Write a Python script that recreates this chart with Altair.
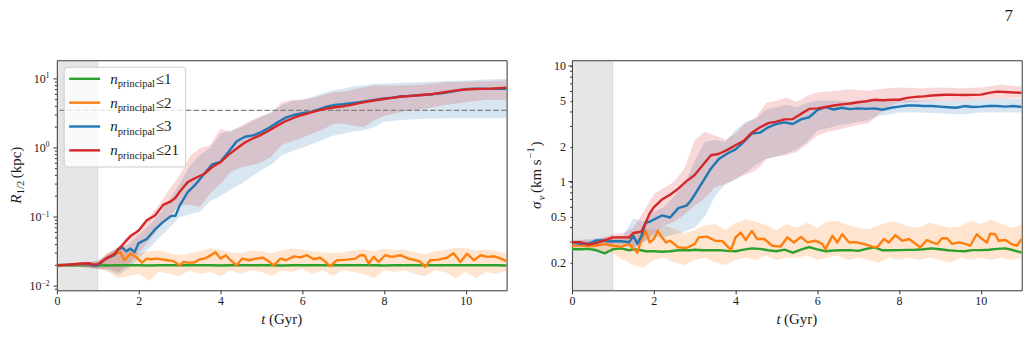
import altair as alt
import pandas as pd

# ---------------------------------------------------------------------------
# Time grids (Gyr)
# ---------------------------------------------------------------------------
T_MAIN = [0.0, 0.2, 0.4, 0.6, 0.8, 0.9, 1.0, 1.2, 1.4, 1.5, 1.6, 1.7, 1.8, 1.9,
          2.0, 2.2, 2.4, 2.6, 2.8, 2.9, 3.0, 3.2, 3.4, 3.6, 3.8, 4.0, 4.2, 4.4,
          4.6, 4.8, 5.0, 5.2, 5.4, 5.6, 5.8, 6.0, 6.2, 6.4, 6.6, 6.8, 7.0, 7.2,
          7.4, 7.6, 7.8, 8.0, 8.2, 8.4, 8.6, 8.8, 9.0, 9.2, 9.4, 9.6, 9.8, 10.0,
          10.2, 10.4, 10.6, 10.8, 11.0]

T_BAND = [0.0, 0.5, 1.0, 1.25, 1.5, 1.75, 2.0, 2.25, 2.5, 2.75, 3.0, 3.25, 3.5,
          3.75, 4.0, 4.25, 4.5, 4.75, 5.0, 5.25, 5.5, 5.75, 6.0, 6.25, 6.5, 6.75,
          7.0, 7.25, 7.5, 7.75, 8.0, 8.5, 9.0, 9.5, 10.0, 10.5, 11.0]

T_QUARTER = [0.0, 0.25, 0.5, 0.75, 1.0, 1.25, 1.5, 1.75, 2.0, 2.25, 2.5, 2.75,
             3.0, 3.25, 3.5, 3.75, 4.0, 4.25, 4.5, 4.75, 5.0, 5.25, 5.5, 5.75,
             6.0, 6.25, 6.5, 6.75, 7.0, 7.25, 7.5, 7.75, 8.0, 8.25, 8.5, 8.75,
             9.0, 9.25, 9.5, 9.75, 10.0, 10.25, 10.5, 10.75, 11.0]

# ---------------------------------------------------------------------------
# Half-light radius R_1/2 (kpc)
# ---------------------------------------------------------------------------
R_N21 = [0.0200, 0.0203, 0.0207, 0.0212, 0.0214, 0.0205, 0.0208, 0.0250, 0.0290,
         0.0340, 0.0390, 0.0460, 0.0530, 0.0580, 0.0640, 0.0900, 0.1050, 0.1500,
         0.1700, 0.1900, 0.2300, 0.3200, 0.3700, 0.4200, 0.5300, 0.6200, 0.8000,
         0.9800, 1.20, 1.38, 1.55, 1.80, 2.12, 2.45, 2.75, 3.00, 3.25, 3.50, 3.72,
         3.88, 4.02, 4.20, 4.45, 4.70, 4.90, 5.10, 5.30, 5.50, 5.62, 5.75, 5.90,
         6.05, 6.30, 6.60, 6.85, 7.00, 7.10, 7.15, 7.20, 7.35, 7.45]

R_N3 = [0.0200, 0.0203, 0.0205, 0.0209, 0.0206, 0.0196, 0.0200, 0.0250, 0.0280,
        0.0340, 0.0360, 0.0320, 0.0350, 0.0310, 0.0420, 0.0480, 0.0660, 0.0850,
        0.1040, 0.1040, 0.1450, 0.2300, 0.3000, 0.4200, 0.5800, 0.6300, 0.8800,
        1.25, 1.45, 1.52, 1.70, 1.98, 2.35, 2.75, 3.00, 3.20, 3.30, 3.60, 3.95,
        4.20, 4.30, 4.45, 4.60, 4.80, 5.00, 5.20, 5.35, 5.55, 5.65, 5.80, 5.90,
        6.00, 6.20, 6.45, 6.75, 7.10, 7.20, 7.20, 7.15, 7.20, 7.20]

R_N1 = [0.0200, 0.0200, 0.0200, 0.0201, 0.0200, 0.0199, 0.0200, 0.0200, 0.0200,
        0.0199, 0.0200, 0.0200, 0.0200, 0.0201, 0.0200, 0.0200, 0.0199, 0.0200,
        0.0200, 0.0200, 0.0200, 0.0200, 0.0199, 0.0200, 0.0200, 0.0200, 0.0200,
        0.0201, 0.0200, 0.0200, 0.0200, 0.0200, 0.0199, 0.0200, 0.0200, 0.0200,
        0.0200, 0.0200, 0.0200, 0.0200, 0.0201, 0.0200, 0.0200, 0.0200, 0.0199]

T_N2_R = [0.0, 0.5, 0.9, 1.0, 1.1, 1.2, 1.3, 1.4, 1.55, 1.65, 1.8, 1.93, 2.08, 2.2,
          2.3, 2.45, 2.6, 2.7, 2.85, 3.0, 3.1, 3.2, 3.35, 3.5, 3.6, 3.7, 3.88, 4.0,
          4.13, 4.25, 4.4, 4.53, 4.7, 4.86, 5.05, 5.2, 5.3, 5.47, 5.6, 5.8, 5.96,
          6.12, 6.28, 6.44, 6.57, 6.68, 6.85, 7.0, 7.1, 7.3, 7.42, 7.52, 7.63, 7.75,
          7.87, 8.03, 8.2, 8.4, 8.6, 8.77, 8.89, 9.01, 9.13, 9.33, 9.54, 9.7, 9.87,
          10.03, 10.2, 10.37, 10.53, 10.7, 10.86, 11.0]
R_N2 = [0.0200, 0.0205, 0.0198, 0.0200, 0.0220, 0.0250, 0.0265, 0.0285, 0.0310,
        0.0237, 0.0295, 0.0265, 0.0219, 0.0250, 0.0245, 0.0250, 0.0242, 0.0237,
        0.0230, 0.0200, 0.0224, 0.0220, 0.0219, 0.0245, 0.0250, 0.0265, 0.0310,
        0.0250, 0.0280, 0.0237, 0.0200, 0.0250, 0.0237, 0.0250, 0.0257, 0.0224,
        0.0200, 0.0250, 0.0237, 0.0270, 0.0260, 0.0280, 0.0245, 0.0257, 0.0224,
        0.0195, 0.0237, 0.0240, 0.0242, 0.0250, 0.0280, 0.0280, 0.0212, 0.0265,
        0.0224, 0.0280, 0.0265, 0.0280, 0.0250, 0.0237, 0.0224, 0.0190, 0.0237,
        0.0242, 0.0257, 0.0300, 0.0224, 0.0295, 0.0237, 0.0280, 0.0265, 0.0270,
        0.0250, 0.0230]

R_N21_LO = [0.0195, 0.0190, 0.0175, 0.0180, 0.0160, 0.0200, 0.0300, 0.0450, 0.0700,
            0.1000, 0.1500, 0.1500, 0.1400, 0.2200, 0.3000, 0.4500, 0.5200, 0.5600,
            0.6200, 0.7500, 1.10, 1.25, 1.40, 1.60, 1.85, 2.20, 2.25, 2.10, 2.00,
            2.50, 2.90, 3.40, 3.70, 4.20, 4.60, 5.00, 5.00]
R_N21_HI = [0.0205, 0.0215, 0.0230, 0.0300, 0.0370, 0.0500, 0.0680, 0.1000, 0.1500,
            0.2500, 0.4000, 0.7500, 1.00, 1.10, 1.90, 1.70, 2.10, 2.50, 2.90, 3.20,
            4.60, 5.00, 5.00, 5.30, 5.80, 6.40, 6.50, 7.00, 7.50, 8.00, 8.00, 8.00,
            8.30, 8.90, 9.10, 9.20, 9.50]
R_N3_LO = [0.0195, 0.0190, 0.0180, 0.0170, 0.0145, 0.0180, 0.0250, 0.0350, 0.0500,
           0.0700, 0.1000, 0.1100, 0.1200, 0.1700, 0.2000, 0.2500, 0.3000, 0.3800,
           0.4800, 0.5800, 0.7800, 0.9000, 1.00, 1.15, 1.30, 1.50, 1.60, 1.75, 1.80,
           2.00, 2.40, 2.55, 2.65, 2.70, 2.70, 2.70, 2.70]
R_N3_HI = [0.0205, 0.0215, 0.0230, 0.0300, 0.0360, 0.0400, 0.0550, 0.0750, 0.1100,
           0.1800, 0.3000, 0.5500, 0.8000, 1.00, 1.60, 1.80, 2.00, 2.40, 2.80, 3.30,
           4.20, 4.80, 5.00, 5.50, 6.20, 6.80, 7.20, 7.80, 8.10, 8.40, 8.50, 8.80,
           9.00, 9.30, 9.50, 9.80, 10.0]
R_N2_LO = [0.019, 0.019, 0.019, 0.019, 0.018, 0.016, 0.013, 0.014, 0.015, 0.012,
           0.016, 0.015, 0.014, 0.017, 0.015, 0.016, 0.014, 0.017, 0.015, 0.017,
           0.016, 0.014, 0.017, 0.016, 0.018, 0.015, 0.017, 0.014, 0.017, 0.016,
           0.015, 0.013, 0.017, 0.016, 0.017, 0.015, 0.014, 0.017, 0.016, 0.013,
           0.016, 0.013, 0.016, 0.015, 0.017]
R_N2_HI = [0.021, 0.021, 0.0215, 0.0215, 0.022, 0.030, 0.034, 0.033, 0.030, 0.032,
           0.033, 0.030, 0.028, 0.030, 0.032, 0.035, 0.034, 0.031, 0.030, 0.033,
           0.032, 0.030, 0.033, 0.035, 0.034, 0.032, 0.031, 0.030, 0.031, 0.033,
           0.034, 0.032, 0.035, 0.033, 0.034, 0.031, 0.029, 0.032, 0.033, 0.036,
           0.035, 0.033, 0.034, 0.032, 0.030]

R_HALF_REF = 3.5  # dashed reference radius (kpc)

# ---------------------------------------------------------------------------
# Velocity dispersion sigma_v (km/s)
# ---------------------------------------------------------------------------
S_N21 = [0.300, 0.300, 0.285, 0.295, 0.310, 0.320, 0.330, 0.330, 0.330, 0.360,
         0.365, 0.370, 0.440, 0.530, 0.600, 0.700, 0.770, 0.870, 1.01, 1.07,
         1.14, 1.39, 1.69, 1.74, 1.88, 2.06, 2.25, 2.65, 2.95, 3.20, 3.30, 3.45,
         3.47, 3.85, 4.25, 4.30, 4.42, 4.55, 4.65, 4.73, 4.85, 4.95, 5.10, 5.05,
         5.10, 5.10, 5.30, 5.40, 5.45, 5.55, 5.60, 5.65, 5.62, 5.60, 5.62, 5.65,
         5.85, 6.00, 5.95, 5.90, 5.85]
S_N3 = [0.300, 0.290, 0.290, 0.310, 0.310, 0.305, 0.305, 0.305, 0.300, 0.340,
        0.290, 0.340, 0.440, 0.450, 0.470, 0.510, 0.490, 0.590, 0.620, 0.680,
        0.77, 1.00, 1.30, 1.58, 1.75, 1.90, 2.20, 2.60, 2.65, 2.95, 3.15, 3.25,
        3.15, 3.45, 3.60, 4.15, 4.40, 4.20, 4.35, 4.23, 4.30, 4.25, 4.30, 4.18,
        4.35, 4.45, 4.55, 4.55, 4.50, 4.50, 4.45, 4.40, 4.35, 4.50, 4.42, 4.45,
        4.50, 4.50, 4.45, 4.50, 4.42]
S_N1 = [0.260, 0.260, 0.262, 0.255, 0.240, 0.250, 0.260, 0.265, 0.255, 0.260,
        0.258, 0.255, 0.250, 0.250, 0.250, 0.248, 0.250, 0.255, 0.255, 0.255,
        0.258, 0.255, 0.255, 0.256, 0.252, 0.250, 0.258, 0.265, 0.262, 0.255,
        0.250, 0.258, 0.243, 0.258, 0.272, 0.260, 0.250, 0.254, 0.255, 0.256,
        0.252, 0.262, 0.270, 0.255, 0.255, 0.256, 0.257, 0.258, 0.260, 0.265,
        0.260, 0.255, 0.252, 0.250, 0.256, 0.256, 0.258, 0.262, 0.265, 0.255,
        0.243]

T_N2_S = [0.0, 0.2, 0.4, 0.6, 0.8, 1.0, 1.2, 1.4, 1.6, 1.7, 1.8, 1.9, 2.0, 2.1,
          2.2, 2.3, 2.4, 2.6, 2.8, 3.0, 3.1, 3.3, 3.5, 3.68, 3.89, 4.0, 4.13, 4.25,
          4.4, 4.53, 4.7, 4.9, 5.1, 5.27, 5.43, 5.6, 5.76, 5.96, 6.12, 6.2, 6.37,
          6.49, 6.61, 6.78, 6.94, 7.15, 7.35, 7.46, 7.63, 7.75, 7.91, 8.08, 8.24,
          8.36, 8.52, 8.68, 8.81, 8.93, 9.05, 9.17, 9.3, 9.46, 9.62, 9.74, 9.9,
          10.03, 10.15, 10.23, 10.35, 10.44, 10.6, 10.76, 10.88, 11.0]
S_N2 = [0.280, 0.280, 0.277, 0.280, 0.288, 0.279, 0.274, 0.288, 0.243, 0.319,
        0.375, 0.298, 0.319, 0.375, 0.330, 0.298, 0.308, 0.270, 0.267, 0.288,
        0.330, 0.335, 0.308, 0.306, 0.256, 0.330, 0.363, 0.313, 0.375, 0.319,
        0.319, 0.279, 0.274, 0.330, 0.298, 0.333, 0.298, 0.308, 0.290, 0.261,
        0.340, 0.298, 0.351, 0.298, 0.300, 0.288, 0.274, 0.270, 0.319, 0.298,
        0.345, 0.308, 0.319, 0.298, 0.270, 0.313, 0.298, 0.288, 0.324, 0.324,
        0.290, 0.298, 0.290, 0.279, 0.351, 0.319, 0.298, 0.355, 0.351, 0.308,
        0.313, 0.288, 0.279, 0.319]

S_N21_LO = [0.280, 0.270, 0.290, 0.290, 0.270, 0.300, 0.360, 0.420, 0.450, 0.520,
            0.620, 0.720, 0.900, 0.950, 1.05, 1.15, 1.25, 1.55, 1.65, 1.70, 1.80,
            2.10, 2.50, 2.70, 2.80, 2.95, 3.10, 3.20, 3.80, 4.50, 4.80, 4.90, 5.00,
            5.00, 5.10, 5.20, 5.30]
S_N21_HI = [0.310, 0.310, 0.350, 0.360, 0.400, 0.550, 0.780, 0.880, 1.00, 1.30,
            2.30, 2.70, 2.50, 2.30, 2.60, 3.20, 3.60, 4.80, 5.00, 5.30, 4.90, 5.50,
            5.90, 6.00, 6.10, 6.30, 6.20, 6.10, 6.30, 6.40, 6.50, 6.40, 6.50, 6.40,
            6.50, 6.90, 6.60]
S_N3_LO = [0.280, 0.280, 0.280, 0.280, 0.260, 0.300, 0.330, 0.330, 0.350, 0.370,
           0.400, 0.500, 0.750, 0.950, 1.05, 1.20, 1.40, 1.58, 1.65, 1.75, 1.90,
           2.20, 2.75, 2.90, 3.05, 3.15, 3.30, 3.40, 3.70, 3.80, 3.95, 3.95, 3.90,
           3.80, 3.95, 3.95, 3.95]
S_N3_HI = [0.310, 0.320, 0.330, 0.340, 0.480, 0.450, 0.550, 0.600, 0.750, 0.950,
           1.50, 2.20, 2.30, 2.20, 2.80, 3.30, 3.50, 4.20, 4.40, 4.60, 4.40, 4.80,
           5.00, 5.00, 5.00, 4.90, 5.00, 5.10, 5.10, 5.00, 5.10, 5.00, 5.00, 5.00,
           5.10, 5.20, 5.20]
S_N2_LO = [0.26, 0.26, 0.26, 0.25, 0.24, 0.21, 0.19, 0.18, 0.21, 0.22, 0.20, 0.19,
           0.21, 0.22, 0.20, 0.19, 0.21, 0.22, 0.21, 0.23, 0.21, 0.22, 0.22, 0.23,
           0.21, 0.22, 0.23, 0.21, 0.22, 0.21, 0.20, 0.22, 0.21, 0.22, 0.21, 0.22,
           0.21, 0.20, 0.22, 0.21, 0.22, 0.21, 0.22, 0.21, 0.22]
S_N2_HI = [0.30, 0.30, 0.30, 0.31, 0.32, 0.33, 0.35, 0.40, 0.38, 0.42, 0.39, 0.36,
           0.38, 0.42, 0.43, 0.38, 0.44, 0.47, 0.45, 0.42, 0.38, 0.43, 0.40, 0.44,
           0.40, 0.45, 0.46, 0.42, 0.40, 0.39, 0.42, 0.45, 0.44, 0.41, 0.40, 0.44,
           0.42, 0.40, 0.41, 0.46, 0.43, 0.47, 0.43, 0.40, 0.42]

# Axis ticks and labels
X_TICKS = [0, 2, 4, 6, 8, 10]
R_MAJOR = [0.01, 0.1, 1.0, 10.0]
R_MINOR = [0.009] + [k * 0.01 for k in range(2, 10)] + [k * 0.1 for k in range(2, 10)] \
    + [float(k) for k in range(2, 10)]
R_LABEL_EXPONENTS = ["\u22122", "\u22121", "0", "1"]
S_MAJOR = [1.0, 10.0]
S_MINOR = [0.3, 0.4, 0.6, 0.7, 0.8, 0.9, 3.0, 4.0, 6.0, 7.0, 8.0, 9.0]
S_LABEL_VALUES = [0.2, 0.5, 1.0, 2.0, 5.0, 10.0]
S_LABEL_TEXTS = ["0.2", "0.5", "1", "2", "5", "10"]

LEGEND_N = ["1", "2", "3", "21"]
C_N1, C_N2, C_N3, C_N21 = "#2ca02c", "#ff7f0e", "#1f77b4", "#d62728"
LEGEND_COLORS = [C_N1, C_N2, C_N3, C_N21]

# ---------------------------------------------------------------------------
# Styling / layout
# ---------------------------------------------------------------------------
W, H = 450.6, 230.5
SERIF = "Liberation Serif"
INK = "#1a1a1a"
ONE = pd.DataFrame({"k": [0]})
X_SCALE = alt.Scale(domain=[0, 11], nice=False, zero=False)
R_SCALE = alt.Scale(type="log", domain=[0.0087, 18.6], nice=False)
S_SCALE = alt.Scale(type="log", domain=[0.115, 11.2], nice=False)
BAND_N2, BAND_N3, BAND_N21 = 0.2, 0.18, 0.18

X_AXIS = alt.Axis(values=X_TICKS, title=None, grid=False, domain=False, format="d",
                  tickSize=3.5, tickWidth=0.9, tickColor=INK,
                  labelFont=SERIF, labelFontSize=12, labelColor=INK,
                  labelPadding=2, labelFlush=False, labelOverlap=False)
s_expr = " : ".join(f"abs(datum.value - {v}) < 1e-6 ? '{s}'"
                    for v, s in zip(S_LABEL_VALUES, S_LABEL_TEXTS)) + " : ''"
S_AXIS = alt.Axis(values=S_LABEL_VALUES, title=None, grid=False, domain=False,
                  tickSize=2, tickWidth=0.9, tickColor=INK,
                  labelExpr=s_expr, labelFont=SERIF, labelFontSize=12,
                  labelColor=INK, labelPadding=4.5, labelFlush=False,
                  labelOverlap=False)
# the R_1/2 panel draws its own log-axis labels, so its y axis is switched off
R_AXIS = None


def xy(yfield, yscale, yaxis):
    return dict(x=alt.X("t:Q", scale=X_SCALE, axis=X_AXIS),
                y=alt.Y(yfield, scale=yscale, axis=yaxis))


def band(t, lo, hi, color, opacity, yscale, yaxis):
    df = pd.DataFrame({"t": t, "lo": lo, "hi": hi})
    return alt.Chart(df).mark_area(color=color, opacity=opacity, clip=True).encode(
        y2="hi:Q", **xy("lo:Q", yscale, yaxis))


def curve(t, v, color, yscale, yaxis):
    df = pd.DataFrame({"t": t, "v": v})
    return alt.Chart(df).mark_line(color=color, strokeWidth=2.4, clip=True,
                                   strokeJoin="round").encode(**xy("v:Q", yscale, yaxis))


def y_ticks(values, yscale, yaxis, length):
    # outward tick marks on the left edge of a log axis
    return alt.Chart(pd.DataFrame({"v": values})).mark_rule(
        color=INK, strokeWidth=0.9).encode(
        y=alt.Y("v:Q", scale=yscale, axis=yaxis),
        x=alt.value(0), x2=alt.value(-length))


def span():
    df = pd.DataFrame({"t": [0.0], "t1": [1.0]})
    return alt.Chart(df).mark_rect(fill="#808080", fillOpacity=0.2, stroke="#808080",
                                   strokeOpacity=0.2, strokeWidth=1).encode(
        x=alt.X("t:Q", scale=X_SCALE, axis=X_AXIS),
        x2="t1:Q",
        y=alt.value(0),
        y2=alt.value(H),
    )


def text(s, x, y, size, italic=False, angle=0, align="left", baseline="alphabetic"):
    return alt.Chart(ONE).mark_text(
        text=s, font=SERIF, fontSize=size, color=INK, angle=angle, align=align,
        baseline=baseline, fontStyle="italic" if italic else "normal",
    ).encode(x=alt.value(x), y=alt.value(y))


def x_title():
    cx, by = W / 2, 264
    return [text("t", cx - 20.5, by, 15, italic=True),
            text("(Gyr)", cx + 20.5, by, 15, align="right")]


# ---------------------------------------------------------------------------
# Left panel: R_1/2
# ---------------------------------------------------------------------------
# invisible page-sized rectangle that fixes the overall canvas extent
page = alt.Chart(ONE).mark_rect(opacity=0).encode(
    x=alt.value(-56), x2=alt.value(974), y=alt.value(-59.5), y2=alt.value(304.5))

exp_w = {"\u22122": 8.0, "\u22121": 8.0, "0": 3.8, "1": 3.8}
r_lab = pd.DataFrame({"v": R_MAJOR, "e": R_LABEL_EXPONENTS})
r_lab["xb"] = [-7.5 - exp_w[e] for e in R_LABEL_EXPONENTS]
r_base = alt.Chart(r_lab).mark_text(align="right", baseline="middle", font=SERIF,
                                    fontSize=12, color=INK).encode(
    x=alt.X("xb:Q", scale=None), y=alt.Y("v:Q", scale=R_SCALE, axis=R_AXIS),
    text=alt.value("10"))
r_exp = alt.Chart(r_lab).mark_text(align="right", baseline="alphabetic", dy=-0.5,
                                   font=SERIF, fontSize=7.5, color=INK).encode(
    x=alt.value(-7.5), y=alt.Y("v:Q", scale=R_SCALE, axis=R_AXIS), text="e:N")

ref_line = alt.Chart(pd.DataFrame({"v": [R_HALF_REF]})).mark_rule(
    color="#808080", strokeDash=[5.5, 2.4], strokeWidth=1.3).encode(
    y=alt.Y("v:Q", scale=R_SCALE, axis=R_AXIS))

leg = pd.DataFrame({"n": LEGEND_N, "col": LEGEND_COLORS})
leg["ry"] = [18.6 + 23.9 * i for i in range(len(LEGEND_N))]
leg["le"] = ["\u2264" + n for n in LEGEND_N]
leg_box = alt.Chart(ONE).mark_rect(fill="white", fillOpacity=0.8, stroke="#cccccc",
                                   strokeWidth=1, cornerRadius=3).encode(
    x=alt.value(7.3), x2=alt.value(129), y=alt.value(7), y2=alt.value(107))
leg_lines = alt.Chart(leg).mark_rule(strokeWidth=2.4).encode(
    x=alt.value(12.3), x2=alt.value(43.3), y=alt.Y("ry:Q", scale=None),
    color=alt.Color("col:N", scale=None, legend=None))
leg_n = alt.Chart(leg).mark_text(text="n", font=SERIF, fontSize=15, fontStyle="italic",
                                 align="left", baseline="alphabetic", dy=5,
                                 color=INK).encode(
    x=alt.value(53.5), y=alt.Y("ry:Q", scale=None))
leg_sub = alt.Chart(leg).mark_text(text="principal", font=SERIF, fontSize=10.5,
                                   align="left", baseline="alphabetic", dy=8.5,
                                   color=INK).encode(
    x=alt.value(61), y=alt.Y("ry:Q", scale=None))
leg_le = alt.Chart(leg).mark_text(font=SERIF, fontSize=15, align="left",
                                  baseline="alphabetic", dy=5, color=INK).encode(
    x=alt.value(99), y=alt.Y("ry:Q", scale=None), text="le:N")

r_title = [
    text("R", -36, 143.9, 15, italic=True, angle=270),
    text("1/2", -32.5, 134.2, 10.5, angle=270),
    text("(kpc)", -36, 118.3, 15, angle=270),
]

left = alt.layer(
    page,
    span(),
    band(T_QUARTER, R_N2_LO, R_N2_HI, C_N2, BAND_N2, R_SCALE, R_AXIS),
    band(T_BAND, R_N3_LO, R_N3_HI, C_N3, BAND_N3, R_SCALE, R_AXIS),
    band(T_BAND, R_N21_LO, R_N21_HI, C_N21, BAND_N21, R_SCALE, R_AXIS),
    ref_line,
    curve(T_QUARTER, R_N1, C_N1, R_SCALE, R_AXIS),
    curve(T_N2_R, R_N2, C_N2, R_SCALE, R_AXIS),
    curve(T_MAIN, R_N3, C_N3, R_SCALE, R_AXIS),
    curve(T_MAIN, R_N21, C_N21, R_SCALE, R_AXIS),
    y_ticks(R_MAJOR, R_SCALE, R_AXIS, 3.5),
    y_ticks(R_MINOR, R_SCALE, R_AXIS, 2),
    r_base, r_exp,
    leg_box, leg_lines, leg_n, leg_sub, leg_le,
    *r_title,
    *x_title(),
).properties(width=W, height=H)

# ---------------------------------------------------------------------------
# Right panel: sigma_v
# ---------------------------------------------------------------------------
s_title = [
    text("\u03c3", -31, 149, 15, italic=True, angle=270),
    text("v", -27.5, 140.2, 10.5, italic=True, angle=270),
    text("(km s", -31, 133, 15, angle=270),
    text("\u22121", -38.5, 98.25, 10.5, angle=270),
    text(")", -31, 86.55, 15, angle=270),
]

right = alt.layer(
    span(),
    band(T_QUARTER, S_N2_LO, S_N2_HI, C_N2, BAND_N2, S_SCALE, S_AXIS),
    band(T_BAND, S_N3_LO, S_N3_HI, C_N3, BAND_N3, S_SCALE, S_AXIS),
    band(T_BAND, S_N21_LO, S_N21_HI, C_N21, BAND_N21, S_SCALE, S_AXIS),
    curve(T_MAIN, S_N1, C_N1, S_SCALE, S_AXIS),
    curve(T_N2_S, S_N2, C_N2, S_SCALE, S_AXIS),
    curve(T_MAIN, S_N3, C_N3, S_SCALE, S_AXIS),
    curve(T_MAIN, S_N21, C_N21, S_SCALE, S_AXIS),
    y_ticks(S_MAJOR, S_SCALE, S_AXIS, 3.5),
    y_ticks(S_MINOR, S_SCALE, S_AXIS, 2),
    *s_title,
    *x_title(),
    text("7", 437.5, -39.5, 17, align="center"),
).properties(width=W, height=H)

chart = alt.HConcatChart(hconcat=[left, right], spacing=65.1, bounds="flush").properties(
    padding=0, autosize=alt.AutoSizeParams(type="pad"), background="white",
).configure_view(stroke="#333333", strokeWidth=1)

chart.save("out.html", embed_options={"renderer": "svg", "actions": False})
